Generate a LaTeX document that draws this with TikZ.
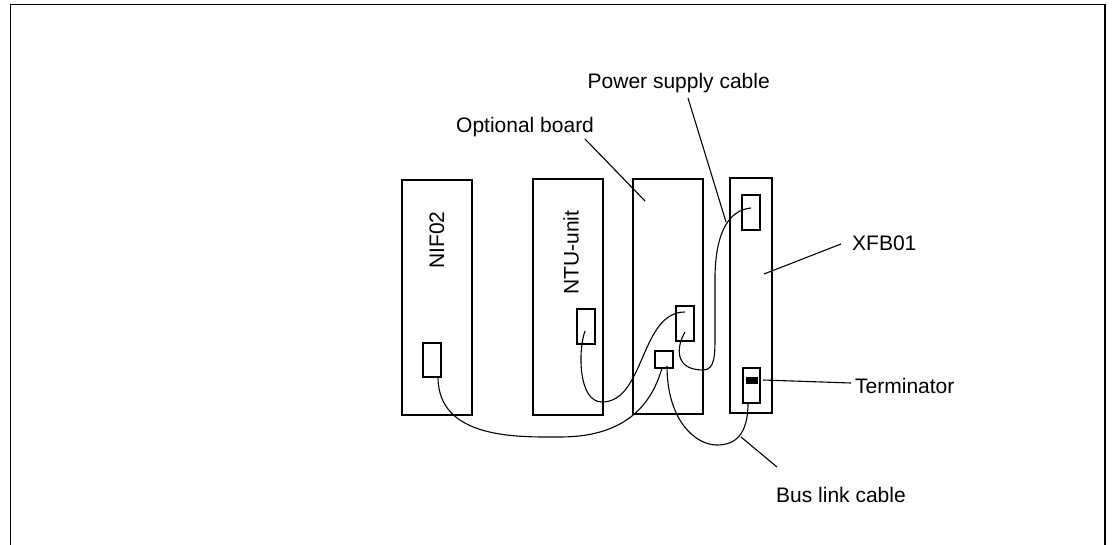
\documentclass[tikz,border=0pt]{standalone}
\usepackage{fontspec}
\setmainfont{Liberation Sans}
\tikzset{
  x=1pt,y=-1pt,
  box/.style={draw,line width=1.6pt,inner sep=0pt,outer sep=0pt,anchor=north west},
  cable/.style={line width=1.1pt},
  leader/.style={line width=1.1pt},
  lbl/.style={font=\fontsize{21}{24}\selectfont,inner sep=0pt}
}
\newcommand{\bx}[5]{\node[box,minimum width=#4pt-#2pt,minimum height=#5pt-#3pt] (#1) at (#2,#3) {};}
\begin{document}
\begin{tikzpicture}
\useasboundingbox (0,0) rectangle (1113,545);
\coordinate (fa) at (10.5,545);
\coordinate (fb) at (10.5,4.5);
\coordinate (fc) at (1105,4.5);
\coordinate (fd) at (1105,545);
\draw[line width=1.2pt] (fa) -- (fb) -- (fc) -- (fd);
\bx{nif}{402}{180}{472}{415}
\bx{ntu}{533}{179}{603}{415}
\bx{opt}{633}{179}{703}{414}
\bx{xfb}{730}{178}{772}{413}
\bx{c1}{423}{343}{441}{377}
\bx{c2}{577}{309}{595}{344}
\bx{c3}{676}{306}{694}{341}
\bx{c4}{655}{351}{673}{368}
\bx{c5}{742}{195}{760}{230}
\bx{c6}{743}{368}{760}{403}
\node[fill=black,inner sep=0pt,minimum width=12pt,minimum height=7pt,anchor=north west] (blk) at (746,377) {};
\node[lbl,rotate=90,anchor=west] (tnif) at (437,269) {NIF02};
\node[lbl,rotate=90,anchor=west] (tntu) at (571,295) {NTU-unit};
\node[lbl,anchor=east] (tpow) at (770,83) {Power supply cable};
\node[lbl,anchor=west] (topt) at (456,127) {Optional board};
\node[lbl,anchor=west] (txfb) at (852,243) {XFB01};
\node[lbl,anchor=west] (tter) at (855,386) {Terminator};
\node[lbl,anchor=west] (tbus) at (776,494.5) {Bus link cable};
\coordinate (a1) at (438,377);
\coordinate (a2) at (662,368);
\draw[cable] (a1) .. controls (438,440) and (520,437) .. (560,437) .. controls (620,437) and (650,410) .. (a2);
\coordinate (b1) at (585,331);
\coordinate (b2) at (685,312);
\draw[cable] (b1) .. controls (578,350) and (578,402) .. (602,402) .. controls (645,402) and (640,312) .. (b2);
\coordinate (p1) at (685,332);
\coordinate (p2) at (751,208);
\draw[cable] (p1) .. controls (677,345) and (673,370) .. (703,370) .. controls (715,370) and (715,355) .. (715,335) -- (715,275) .. controls (716,230) and (730,210) .. (p2);
\coordinate (d1) at (667,366);
\coordinate (d2) at (748,403);
\draw[cable] (d1) .. controls (667,420) and (695,445) .. (717,445) .. controls (735,445) and (748,435) .. (d2);
\coordinate (l1) at (688,98);
\coordinate (l2) at (726,222);
\draw[leader] (l1) -- (l2);
\coordinate (o1) at (585,139);
\coordinate (o2) at (645,201);
\draw[leader] (o1) -- (o2);
\coordinate (x1) at (841,244);
\coordinate (x2) at (764,274);
\draw[leader] (x1) -- (x2);
\coordinate (t1) at (763,380);
\coordinate (t2) at (851,383);
\draw[leader] (t1) -- (t2);
\coordinate (u1) at (741,437);
\coordinate (u2) at (777,467);
\draw[leader] (u1) -- (u2);
\end{tikzpicture}
\end{document}
